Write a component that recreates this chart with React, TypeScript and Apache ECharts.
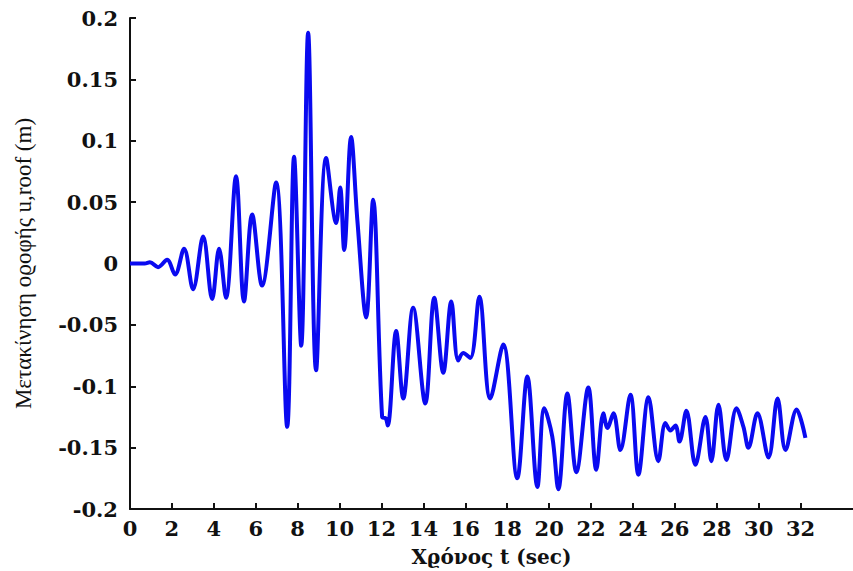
import React, { useEffect, useRef } from "react";
import * as echarts from "echarts";

const timeSec: number[] = [
  0, 0.35, 0.7, 0.95, 1.34, 1.77, 2.15, 2.58, 3.01, 3.49, 3.92, 4.25, 4.58, 5.06, 5.44, 5.83, 6.3, 6.97,
  7.5, 7.83, 8.17, 8.5, 8.88, 9.36, 9.84, 10.03, 10.22, 10.55, 10.85, 11.27, 11.6, 12.03, 12.2, 12.3,
  12.7, 13.04, 13.51, 14.09, 14.52, 14.95, 15.33, 15.66, 15.9, 16.24, 16.67, 17.19, 17.81, 18.48, 18.96,
  19.44, 19.77, 20.15, 20.44, 20.87, 21.3, 21.87, 22.25, 22.59, 22.78, 23.07, 23.4, 23.88, 24.26, 24.74,
  25.21, 25.55, 25.79, 26.03, 26.22, 26.55, 26.98, 27.46, 27.74, 28.08, 28.46, 28.94, 29.27, 29.51,
  29.94, 30.47, 30.9, 31.28, 31.81, 32.23,
];

const roofDisp: number[] = [
  0, 0, 0, 0.001, -0.003, 0.003, -0.009, 0.012, -0.021, 0.022, -0.029, 0.012, -0.028, 0.071, -0.031, 0.04,
  -0.018, 0.066, -0.133, 0.087, -0.067, 0.188, -0.087, 0.086, 0.033, 0.062, 0.011, 0.103, 0.035, -0.044,
  0.052, -0.125, -0.126, -0.132, -0.055, -0.11, -0.036, -0.114, -0.028, -0.089, -0.031, -0.079, -0.073,
  -0.077, -0.027, -0.11, -0.066, -0.175, -0.092, -0.182, -0.118, -0.141, -0.184, -0.106, -0.17, -0.101,
  -0.168, -0.122, -0.134, -0.122, -0.152, -0.107, -0.172, -0.109, -0.161, -0.13, -0.136, -0.132, -0.145,
  -0.12, -0.164, -0.125, -0.161, -0.115, -0.16, -0.118, -0.133, -0.15, -0.122, -0.158, -0.11, -0.152,
  -0.119, -0.142,
];

const xTickValues: number[] = [2, 4, 6, 8, 10, 12, 14, 16, 18, 20, 22, 24, 26, 28, 30, 32];
const xLabelValues: number[] = [0, 2, 4, 6, 8, 10, 12, 14, 16, 18, 20, 22, 24, 26, 28, 30, 32];

const xName = "Χϱόνος t (sec)";
const yName = "Μετακίνηση οϱοφής u,roof (m)";

export default function App() {
  const ref = useRef<HTMLDivElement>(null);
  useEffect(() => {
    document.body.style.margin = "0";
    if (!ref.current) return;
    const chart = echarts.init(ref.current, undefined, { renderer: "svg" });
    const labelFont = {
      fontFamily: "DejaVu Serif",
      fontWeight: "bold" as const,
      fontSize: 21,
      color: "#111",
    };
    chart.setOption({
      animation: false,
      backgroundColor: "#ffffff",
      grid: { left: 130, top: 18, right: 0, bottom: 62, containLabel: false, outerBoundsMode: "none" },
      xAxis: {
        type: "value",
        min: 0,
        max: 34.5,
        interval: 2,
        splitLine: { show: false },
        axisLine: { show: true, onZero: false, lineStyle: { color: "#111", width: 2 } },
        axisTick: {
          show: true,
          inside: true,
          length: 6,
          lineStyle: { color: "#111", width: 2 },
          customValues: xTickValues,
        },
        axisLabel: {
          ...labelFont,
          margin: 9,
          customValues: xLabelValues,
        },
        name: xName,
        nameLocation: "middle",
        nameGap: 38,
        nameTextStyle: { fontFamily: "DejaVu Serif", fontWeight: "bold", fontSize: 20, color: "#111" },
      },
      yAxis: {
        type: "value",
        min: -0.2,
        max: 0.2,
        interval: 0.05,
        splitLine: { show: false },
        axisLine: { show: true, onZero: false, lineStyle: { color: "#111", width: 2 } },
        axisTick: { show: true, inside: true, length: 6, lineStyle: { color: "#111", width: 2 } },
        axisLabel: {
          ...labelFont,
          margin: 12,
          formatter: (v: number) => String(parseFloat(v.toFixed(2))),
        },
        name: yName,
        nameLocation: "middle",
        nameGap: 95,
        nameRotate: 90,
        nameTextStyle: { fontFamily: "Liberation Serif", fontSize: 23, color: "#111" },
      },
      series: [
        {
          type: "line",
          data: timeSec.map((t, i) => [t, roofDisp[i]]),
          showSymbol: false,
          smooth: 0.35,
          lineStyle: { color: "#0a0af0", width: 4 },
        },
      ],
    });
    return () => chart.dispose();
  }, []);
  return <div ref={ref} style={{ width: 853, height: 571 }} />;
}
